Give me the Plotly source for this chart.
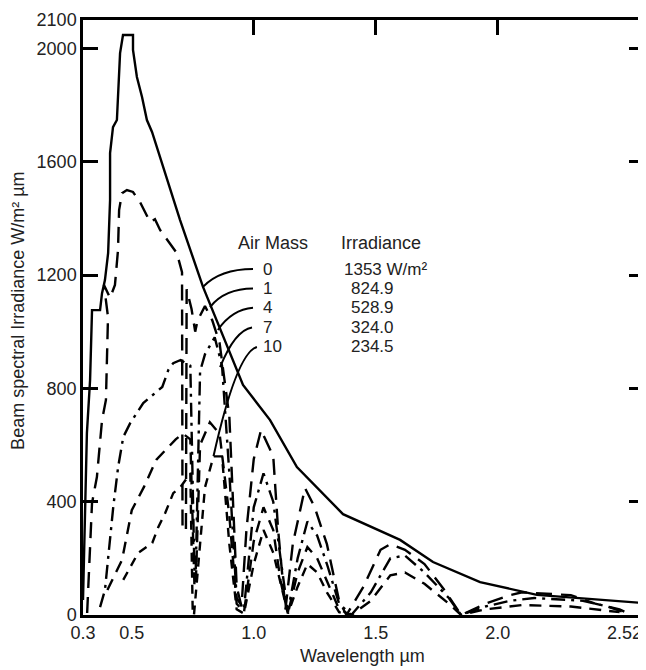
import plotly.graph_objects as go

# ---------------- data (wavelength in µm, irradiance in W/m² µm) ----------------
am0_wl = [0.300, 0.316, 0.329, 0.337, 0.370, 0.378, 0.390, 0.403, 0.411, 0.411, 0.423, 0.439,
          0.452, 0.464, 0.505, 0.505, 0.521, 0.542, 0.562, 0.583, 0.698, 0.792, 0.956, 1.067,
          1.177, 1.366, 1.600, 1.735, 1.928, 2.161, 2.600]
am0_e = [53, 642, 829, 1076, 1076, 1136, 1182, 1277, 1465, 1630, 1722, 1747,
         1983, 2047, 2047, 1994, 1899, 1828, 1747, 1705, 1394, 1158, 812, 688,
         522, 356, 265, 187, 116, 71, 42]

am1_wl = [0.317, 0.337, 0.357, 0.378, 0.394, 0.396, 0.398, 0.4025, 0.386, 0.411, 0.431, 0.4435,
          0.448, 0.460, 0.480, 0.505, 0.534, 0.575, 0.595, 0.616, 0.685, 0.706, 0.708, 0.722,
          0.725, 0.745, 0.760, 0.770, 0.800, 0.830, 0.860, 0.900, 0.930, 0.950, 0.970, 1.000,
          1.030, 1.080, 1.100, 1.130, 1.160, 1.210, 1.250, 1.300, 1.350, 1.380, 1.450, 1.520,
          1.560, 1.620, 1.700, 1.780, 1.850, 1.950, 2.050, 2.100, 2.200, 2.300, 2.400, 2.500,
          2.550]
am1_e = [7, 395, 487, 688, 759, 819, 935, 1052, 1165, 1119, 1165, 1288,
         1429, 1489, 1500, 1493, 1457, 1387, 1397, 1359, 1277, 1210, 300, 300,
         1150, 1080, 1000, 1040, 1090, 1040, 960, 700, 100, 30, 300, 550,
         653, 560, 300, 20, 250, 448, 380, 250, 50, 0, 100, 230,
         250, 230, 180, 90, 0, 40, 70, 80, 75, 70, 40, 20,
         0]

am4_wl = [0.370, 0.390, 0.424, 0.444, 0.465, 0.494, 0.547, 0.625, 0.650, 0.670, 0.700, 0.740,
          0.757, 0.762, 0.780, 0.800, 0.840, 0.870, 0.900, 0.930, 0.960, 1.000, 1.040, 1.080,
          1.110, 1.140, 1.180, 1.220, 1.260, 1.300, 1.350, 1.400, 1.480, 1.560, 1.620, 1.700,
          1.800, 1.850, 1.950, 2.050, 2.150, 2.250, 2.350, 2.450, 2.520]
am4_e = [28, 88, 381, 522, 628, 678, 748, 805, 865, 889, 900, 880,
         150, 150, 860, 920, 980, 880, 500, 60, 20, 380, 500, 400,
         200, 10, 200, 330, 280, 180, 40, 0, 80, 200, 210, 150,
         60, 0, 30, 50, 60, 55, 50, 30, 10]

am7_wl = [0.400, 0.460, 0.500, 0.550, 0.600, 0.640, 0.680, 0.710, 0.740, 0.757, 0.762, 0.780,
          0.820, 0.860, 0.900, 0.930, 0.960, 1.000, 1.040, 1.080, 1.110, 1.140, 1.180, 1.220,
          1.260, 1.300, 1.350, 1.400, 1.480, 1.560, 1.620, 1.700, 1.800, 1.850, 1.950, 2.100,
          2.300, 2.500]
am7_e = [88, 194, 370, 452, 547, 582, 620, 640, 620, 100, 100, 600,
         680, 640, 350, 40, 10, 260, 380, 300, 120, 5, 150, 240,
         200, 120, 20, 0, 50, 140, 150, 110, 40, 0, 20, 35,
         30, 10]

am10_wl = [0.465, 0.526, 0.584, 0.609, 0.637, 0.670, 0.700, 0.740, 0.750, 0.755, 0.800, 0.835,
           0.870, 0.900, 0.930, 0.960, 1.000, 1.040, 1.080, 1.120, 1.140, 1.180, 1.220, 1.260,
           1.300, 1.350, 1.400]
am10_e = [124, 219, 254, 311, 360, 430, 452, 500, 0, 0, 450, 560,
          560, 250, 20, 5, 180, 300, 220, 80, 5, 100, 180, 150,
          80, 10, 0]

air_mass = ["0", "1", "4", "7", "10"]
irradiance = ["1353 W/m²", "824.9", "528.9", "324.0", "234.5"]

x_ticks = [0.3, 0.5, 1.0, 1.5, 2.0, 2.52]
x_ticktext = ["0.3", "0.5", "1.0", "1.5", "2.0", "2.52"]
y_ticks = [0, 400, 800, 1200, 1600, 2000, 2100]

# ---------------- figure ----------------
fig = go.Figure()
LW = 2.4
fig.add_trace(go.Scatter(x=am0_wl, y=am0_e, mode="lines",
                         line=dict(color="black", width=LW), name="AM0"))
fig.add_trace(go.Scatter(x=am1_wl, y=am1_e, mode="lines",
                         line=dict(color="black", width=LW, dash="16px,9px"), name="AM1"))
fig.add_trace(go.Scatter(x=am4_wl, y=am4_e, mode="lines",
                         line=dict(color="black", width=LW, dash="14px,6px,3px,6px"), name="AM4"))
fig.add_trace(go.Scatter(x=am7_wl, y=am7_e, mode="lines",
                         line=dict(color="black", width=LW, dash="12px,8px"), name="AM7"))
fig.add_trace(go.Scatter(x=am10_wl, y=am10_e, mode="lines",
                         line=dict(color="black", width=LW, dash="9px,7px"), name="AM10"))

FONT = "Liberation Sans, Arial, sans-serif"
TXT = dict(size=18, family=FONT, color="#222")
ROW = dict(size=17, family=FONT, color="#222")

# legend text block
col_am_x, col_ir_x = 1.058, 1.505
row_y = [1221, 1152, 1084, 1015, 946]
fig.add_annotation(x=1.079, y=1313, text="Air Mass", showarrow=False, font=TXT)
fig.add_annotation(x=1.522, y=1313, text="Irradiance", showarrow=False, font=TXT)
for i, (am, ir) in enumerate(zip(air_mass, irradiance)):
    fig.add_annotation(x=col_am_x + (0.017 if am == "10" else 0), y=row_y[i], text=am,
                       showarrow=False, font=ROW, borderpad=0)
    fig.add_annotation(x=col_ir_x + (0.035 if i == 0 else -0.02), y=row_y[i], text=ir,
                       showarrow=False, font=ROW, borderpad=0)

# axis titles
fig.add_annotation(xref="paper", yref="paper", x=0.499, y=-0.069, text="Wavelength µm",
                   showarrow=False, font=TXT, xanchor="center", yanchor="middle")
fig.add_annotation(xref="paper", yref="paper", x=-0.116, y=0.511,
                   text="Beam spectral Irradiance W/m² µm", textangle=-90,
                   showarrow=False, font=TXT, xanchor="center", yanchor="middle")

# leader lines from labels to curves (quadratic paths in data coords)
leaders = [
    ((0.997, 1221), (0.862, 1221), (0.792, 1158)),
    ((0.997, 1152), (0.882, 1152), (0.821, 1087)),
    ((0.997, 1084), (0.911, 1078), (0.853, 1006)),
    ((0.993, 1015), (0.923, 1005), (0.862, 875)),
    ((1.013, 946), (0.930, 925), (0.835, 560)),
]
for (x0, y0), (cx, cy), (x1, y1) in leaders:
    fig.add_shape(type="path", path=f"M {x0},{y0} Q {cx},{cy} {x1},{y1}",
                  line=dict(color="black", width=2), xref="x", yref="y")

# the page body has an 8px default margin, so the figure is drawn 8px smaller
fig.update_layout(
    width=638, height=662,
    margin=dict(l=75, r=2, t=12, b=55, autoexpand=False),
    plot_bgcolor="white", paper_bgcolor="white",
    showlegend=False,
    font=dict(family=FONT, size=18, color="#222"),
    xaxis=dict(range=[0.3, 2.6], tickvals=x_ticks, ticktext=x_ticktext,
               showline=True, linewidth=2.5, linecolor="black", mirror=True,
               ticks="", showgrid=False, zeroline=False, automargin=False,
               tickfont=TXT),
    xaxis2=dict(range=[0.3, 2.6], overlaying="x", side="top",
                tickvals=[1.0, 1.5, 2.0], ticks="inside", ticklen=15, tickwidth=2.5,
                tickcolor="black", showticklabels=False, showgrid=False, zeroline=False,
                automargin=False),
    yaxis=dict(range=[0, 2100], tickvals=y_ticks,
               showline=True, linewidth=2.5, linecolor="black", mirror="ticks",
               ticks="inside", ticklen=15, tickwidth=2.5, tickcolor="black",
               showgrid=False, zeroline=False, automargin=False,
               tickfont=TXT),
)
# invisible trace on xaxis2 so the top ticks render
fig.add_trace(go.Scatter(x=[0.3], y=[0], xaxis="x2", mode="markers",
                         marker=dict(opacity=0), hoverinfo="skip", showlegend=False))

fig.write_html("out.html")
